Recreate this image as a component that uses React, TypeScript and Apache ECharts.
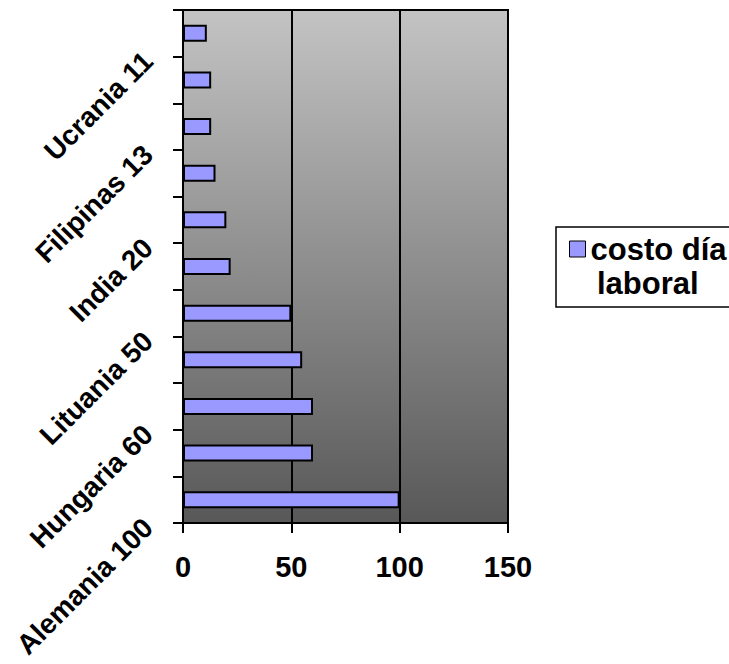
import React, { useEffect, useRef } from "react";
import * as echarts from "echarts";

// Categories from bottom to top (only every other one carries a visible label)
const categories = [
  "Alemania 100",
  "",
  "Hungaria 60",
  "",
  "Lituania 50",
  "",
  "India 20",
  "",
  "Filipinas 13",
  "",
  "Ucrania 11",
];
const values = [100, 60, 60, 55, 50, 22, 20, 15, 13, 13, 11];
const seriesName = "costo día laboral";
const legendLine1 = "costo día";
const legendLine2 = "laboral";
const xMin = 0;
const xMax = 150;
const xInterval = 50;

const FONT = "Arial, 'Liberation Sans', sans-serif";

export default function App() {
  const ref = useRef<HTMLDivElement>(null);

  useEffect(() => {
    if (!ref.current) return;
    const chart = echarts.init(ref.current, null, { renderer: "svg" });
    const option: any = {
      animation: false,
      backgroundColor: "#ffffff",
      grid: {
        left: 183,
        top: 10,
        width: 325,
        height: 513,
        containLabel: false,
        outerBoundsMode: "none",
        show: true,
        borderColor: "#000",
        borderWidth: 2,
        backgroundColor: {
          type: "linear",
          x: 0,
          y: 0,
          x2: 0,
          y2: 1,
          colorStops: [
            { offset: 0, color: "#c3c3c3" },
            { offset: 1, color: "#585858" },
          ],
        },
      },
      xAxis: {
        type: "value",
        min: xMin,
        max: xMax,
        interval: xInterval,
        axisLine: { show: true, lineStyle: { color: "#000", width: 2 } },
        axisTick: { show: true, length: 10, lineStyle: { color: "#000", width: 2 } },
        axisLabel: {
          color: "#000",
          fontFamily: FONT,
          fontWeight: "bold",
          fontSize: 29,
          margin: 29,
        },
        splitLine: { show: true, lineStyle: { color: "#000", width: 2 } },
      },
      yAxis: [
        {
          type: "category",
          data: categories,
          position: "left",
          boundaryGap: true,
          axisLine: { show: true, lineStyle: { color: "#000", width: 2 } },
          axisTick: { show: false },
          axisLabel: { show: false },
          splitLine: { show: false },
        },
        {
          type: "value",
          min: 0,
          max: categories.length,
          interval: 1,
          position: "left",
          axisLine: { show: false },
          axisTick: { show: true, length: 10, lineStyle: { color: "#000", width: 2 } },
          splitLine: { show: false },
          axisLabel: {
            color: "#000",
            fontFamily: FONT,
            fontWeight: "bold",
            fontSize: 28,
            rotate: 45,
            margin: 35,
            formatter: (v: number) => categories[v] ?? "",
          },
        },
      ],
      legend: {
        show: true,
        left: 556,
        top: 227,
        orient: "vertical",
        padding: [5, 24, 41, 13],
        borderColor: "#000",
        borderWidth: 1.5,
        backgroundColor: "#fff",
        icon: "rect",
        itemWidth: 16,
        itemHeight: 16,
        itemGap: 0,
        itemStyle: { borderColor: "#000", borderWidth: 1 },
        formatter: () => legendLine1,
        textStyle: {
          color: "#000",
          fontFamily: FONT,
          fontWeight: "bold",
          fontSize: 31,
          lineHeight: 34,
        },
        data: [seriesName],
      },
      graphic: [
        {
          type: "text",
          x: 597,
          y: 283,
          z: 100,
          style: {
            text: legendLine2,
            fill: "#000",
            font: `bold 31px ${FONT}`,
            verticalAlign: "middle",
            align: "left",
          },
        },
      ],
      series: [
        {
          name: seriesName,
          type: "bar",
          xAxisIndex: 0,
          yAxisIndex: 0,
          data: values,
          barWidth: 17,
          itemStyle: { color: "#9999ff", borderColor: "#000", borderWidth: 2 },
        },
      ],
    };
    chart.setOption(option);
    return () => {
      chart.dispose();
    };
  }, []);

  return (
    <div
      ref={ref}
      style={{ position: "absolute", left: 0, top: 0, width: 729, height: 664 }}
    />
  );
}
